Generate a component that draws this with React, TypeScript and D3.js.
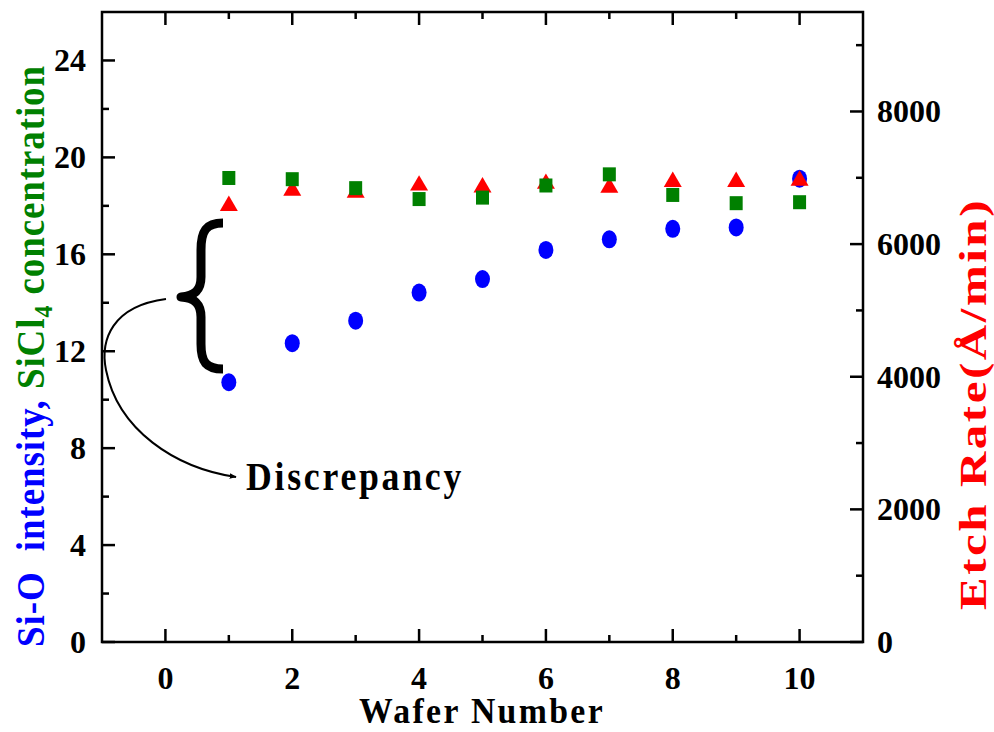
import React from "react";
import * as d3 from "d3";

const wafers = [1, 2, 3, 4, 5, 6, 7, 8, 9, 10];
const sioIntensity = [10.72, 12.33, 13.26, 14.42, 14.98, 16.18, 16.62, 17.05, 17.11, 19.12];
const sicl4Conc = [19.15, 19.1, 18.73, 18.28, 18.34, 18.84, 19.3, 18.45, 18.11, 18.15];
const etchRate = [6615, 6846, 6816, 6924, 6894, 6949, 6891, 6977, 6977, 6997];
const xTicks = [0, 2, 4, 6, 8, 10];
const xMinor = [1, 3, 5, 7, 9];
const leftTicks = [0, 4, 8, 12, 16, 20, 24];
const leftMinor = [2, 6, 10, 14, 18, 22];
const rightTicks = [0, 2000, 4000, 6000, 8000];
const rightMinor = [1000, 3000, 5000, 7000, 9000];

const W = 994;
const H = 732;
const L = 102;
const R = 863;
const T = 12;
const B = 642;

const FONT = "'Liberation Serif', 'Times New Roman', serif";

export default function App() {
  const x = d3.scaleLinear().domain([-1, 11]).range([L, R]);
  const yL = d3.scaleLinear().domain([0, 26]).range([B, T]);
  const yR = d3.scaleLinear().domain([0, 9500]).range([B, T]);

  const major = 13;
  const minor = 7;
  const sw = 2.5;

  const bracePath =
    "M 223,223 C 206,223 201,231 201,250 L 201,277 C 201,290 195,296 181,297 C 195,298 201,304 201,317 L 201,344 C 201,362 206,369 223,369";
  const arrowPath = "M 166,299 C 112,306 100,340 106,370 C 118,430 175,468 236,477";

  return (
    <svg
      width={W}
      height={H}
      style={{ position: "absolute", left: 0, top: 0, background: "#fff" }}
      fontFamily={FONT}
    >
      <defs>
        <marker
          id="arrowhead"
          viewBox="0 0 10 10"
          refX="9"
          refY="5"
          markerWidth="7"
          markerHeight="7"
          markerUnits="userSpaceOnUse"
          orient="auto"
        >
          <path d="M0,1 L10,5 L0,9 Z" fill="#000" />
        </marker>
      </defs>
      <rect x={0} y={0} width={W} height={H} fill="#fff" />

      <rect x={L} y={T} width={R - L} height={B - T} fill="none" stroke="#000" strokeWidth={sw} />

      {xTicks.map((t) => (
        <g key={"xt" + t}>
          <line x1={x(t)} x2={x(t)} y1={B} y2={B - major} stroke="#000" strokeWidth={sw} />
          <line x1={x(t)} x2={x(t)} y1={T} y2={T + major} stroke="#000" strokeWidth={sw} />
          <text x={x(t)} y={689} textAnchor="middle" fontSize={32} fontWeight="bold">
            {t}
          </text>
        </g>
      ))}
      {xMinor.map((t) => (
        <g key={"xm" + t}>
          <line x1={x(t)} x2={x(t)} y1={B} y2={B - minor} stroke="#000" strokeWidth={sw} />
          <line x1={x(t)} x2={x(t)} y1={T} y2={T + minor} stroke="#000" strokeWidth={sw} />
        </g>
      ))}

      {leftTicks.map((t) => (
        <g key={"lt" + t}>
          <line x1={L} x2={L + major} y1={yL(t)} y2={yL(t)} stroke="#000" strokeWidth={sw} />
          <text x={86} y={yL(t) + 11} textAnchor="end" fontSize={32} fontWeight="bold">
            {t}
          </text>
        </g>
      ))}
      {leftMinor.map((t) => (
        <line key={"lm" + t} x1={L} x2={L + minor} y1={yL(t)} y2={yL(t)} stroke="#000" strokeWidth={sw} />
      ))}

      {rightTicks.map((t) => (
        <g key={"rt" + t}>
          <line x1={R} x2={R - major} y1={yR(t)} y2={yR(t)} stroke="#000" strokeWidth={sw} />
          <text x={877} y={yR(t) + 11} textAnchor="start" fontSize={32} fontWeight="bold">
            {t}
          </text>
        </g>
      ))}
      {rightMinor.map((t) => (
        <line key={"rm" + t} x1={R} x2={R - minor} y1={yR(t)} y2={yR(t)} stroke="#000" strokeWidth={sw} />
      ))}

      {wafers.map((w, i) => (
        <ellipse key={"c" + w} cx={x(w)} cy={yL(sioIntensity[i])} rx={7.5} ry={9} fill="#0000FF" />
      ))}
      {wafers.map((w, i) => {
        const cx = x(w);
        const cy = yR(etchRate[i]);
        const hw = 9;
        const hh = 7.7;
        return (
          <path
            key={"t" + w}
            d={`M${cx},${cy - hh} L${cx + hw},${cy + hh} L${cx - hw},${cy + hh} Z`}
            fill="#FF0000"
          />
        );
      })}
      {wafers.map((w, i) => (
        <rect
          key={"s" + w}
          x={x(w) - 6.5}
          y={yL(sicl4Conc[i]) - 7}
          width={13}
          height={14}
          fill="#008000"
        />
      ))}

      <path d={bracePath} fill="none" stroke="#000" strokeWidth={9} strokeLinejoin="round" />
      <path d={arrowPath} fill="none" stroke="#000" strokeWidth={2} markerEnd="url(#arrowhead)" />
      <text
        x={246}
        y={490}
        fontSize={39}
        fontWeight="bold"
        letterSpacing={3}
        textLength={218}
        lengthAdjust="spacingAndGlyphs"
      >
        Discrepancy
      </text>

      <text
        x={359}
        y={723}
        fontSize={36}
        fontWeight="bold"
        letterSpacing={2.5}
        textLength={246}
        lengthAdjust="spacingAndGlyphs"
      >
        Wafer Number
      </text>

      <text
        transform={`translate(44, 647) rotate(-90)`}
        textAnchor="start"
        fontSize={40}
        fontWeight="bold"
        letterSpacing={1}
        textLength={582}
        lengthAdjust="spacingAndGlyphs"
        style={{ whiteSpace: "pre" }}
      >
        <tspan fill="#0000FF" fontWeight="bold">{"Si-O  intensity, "}</tspan>
        <tspan fill="#008000" fontWeight="bold">SiCl</tspan>
        <tspan fill="#008000" fontWeight="bold" fontSize={26} dy={8}>
          4
        </tspan>
        <tspan fill="#008000" fontWeight="bold" dy={-8}>
          {" concentration"}
        </tspan>
      </text>

      <text
        transform={`translate(986, 610) rotate(-90)`}
        textAnchor="start"
        fontSize={38}
        fontWeight="bold"
        fill="#FF0000"
        letterSpacing={2}
        textLength={412}
        lengthAdjust="spacingAndGlyphs"
      >
        Etch Rate(Å/min)
      </text>
    </svg>
  );
}
